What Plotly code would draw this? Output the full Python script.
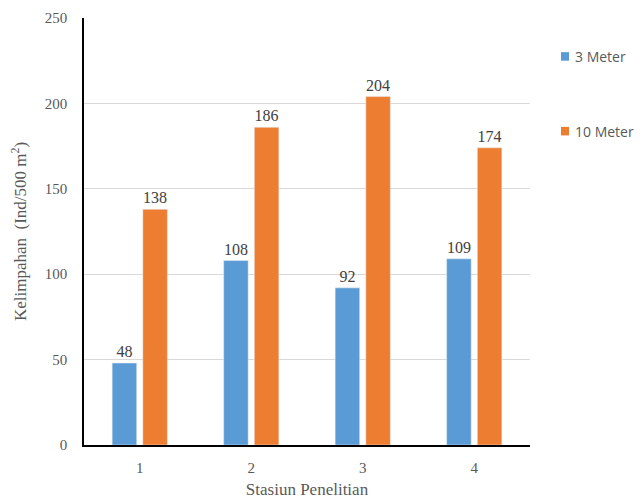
import plotly.graph_objects as go

stations = ["1", "2", "3", "4"]
depth_3m = [48, 108, 92, 109]
depth_10m = [138, 186, 204, 174]
y_ticks = [0, 50, 100, 150, 200, 250]

series = [
    ("3 Meter", depth_3m, "#5B9BD5"),
    ("10 Meter", depth_10m, "#ED7D31"),
]

serif = "Liberation Serif"
sans = "Open Sans"

fig = go.Figure()
for name, values, color in series:
    fig.add_trace(go.Bar(
        x=stations, y=values, name=name,
        marker=dict(color=color),
        text=values, textposition="outside", cliponaxis=False,
        textfont=dict(family=serif, size=16, color="#404040"),
    ))

# Legend drawn to the right of the plot: a colour square plus the series name
legend_y = [0.91, 0.735]
for (name, _, color), ly in zip(series, legend_y):
    fig.add_shape(type="rect", xref="paper", yref="paper",
                  x0=1.0695, x1=1.0875, y0=ly - 0.01, y1=ly + 0.01,
                  fillcolor=color, line=dict(width=0))
    fig.add_annotation(text=name, xref="paper", yref="paper",
                       x=1.097, y=ly, xanchor="left", yanchor="middle",
                       showarrow=False,
                       font=dict(family=sans, size=14, color="#595959"))

fig.update_layout(
    width=641, height=499,
    margin=dict(l=84, r=111, t=18, b=54),
    paper_bgcolor="white", plot_bgcolor="white",
    barmode="group", bargap=0.45, bargroupgap=0.2,
    showlegend=False,
    xaxis=dict(
        automargin=False,
        showline=True, linecolor="black", linewidth=1.5,
        ticks="", ticklabelstandoff=8,
        tickfont=dict(family=serif, size=15, color="#595959"),
        title=dict(text="Stasiun Penelitian", standoff=10,
                   font=dict(family=serif, size=17, color="#595959")),
    ),
    yaxis=dict(
        automargin=False,
        range=[0, 250], tickvals=y_ticks,
        showline=True, linecolor="black", linewidth=1.5,
        showgrid=True, gridcolor="#D9D9D9", gridwidth=1,
        zeroline=False, ticks="", ticklabelstandoff=12,
        tickfont=dict(family=serif, size=15, color="#595959"),
        title=dict(text="Kelimpahan  (Ind/500 m<sup>2</sup>)", standoff=14,
                   font=dict(family=serif, size=17, color="#595959")),
    ),
)

fig.write_html("out.html")
